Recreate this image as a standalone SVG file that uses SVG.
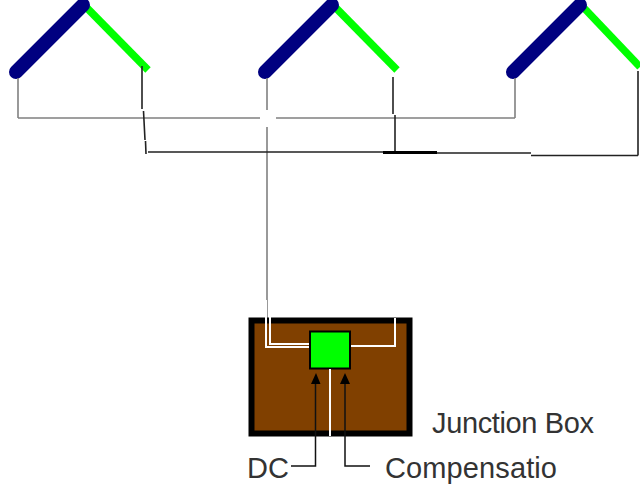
<svg xmlns="http://www.w3.org/2000/svg" width="640" height="492" viewBox="0 0 640 492">
<style>
.blue{stroke:#000080;stroke-width:14;stroke-linecap:round;fill:none}
.green{stroke:#00ff00;stroke-width:7.500;fill:none}
.gray{stroke:#808080;stroke-width:1.6;fill:none}
.blk{stroke:#222;stroke-width:1.6;fill:none}
.wht{stroke:#fff;stroke-width:2;fill:none}
.ln{stroke:#111;stroke-width:1.5;fill:none}
.lb{font-family:"Liberation Sans",Arial,sans-serif;font-size:29px;fill:#333}
</style>
<g id="house1"><path class="green" d="M87 8L148 70"/><path class="blue" d="M16 72L83 5"/><path class="gray" d="M18 78V118"/></g>
<g id="house2"><path class="green" d="M336 8L397 70"/><path class="blue" d="M265 72L332 5"/></g>
<g id="house3"><path class="green" d="M584 8L640 67"/><path class="blue" d="M513 72L580 5"/><path class="gray" d="M515 78V118"/></g>
<g id="connectors">
<path class="gray" d="M18 118H260M276 118H515"/>
<path class="gray" d="M267 78V110M267 127V320"/>
<path class="blk" d="M142 66V109M143.500 111L145 140M145.500 141L146 154"/>
<path class="blk" d="M393 77V114M395 115V152"/>
<path class="blk" d="M148 152H383M437 153H531M531 155.500H638M638 155.500V71"/>
<path d="M383 152.500H437" stroke="#000" stroke-width="3" fill="none"/>
</g>
<g id="junction-box">
<rect x="251.500" y="320.500" width="158" height="113" fill="#804000" stroke="#000" stroke-width="6"/>
<rect x="310" y="331.500" width="40" height="37" fill="#00ff00" stroke="#000" stroke-width="2"/>
<path class="wht" d="M266 300V347H309M270 300V344H309M395 318V346H351M330 369V436"/>
</g>
<g id="labels">
<path class="ln" d="M291 466H315.500V380M370 466H345V380"/>
<polygon points="316,373 320.500,384 311,384" fill="#000"/>
<polygon points="345,373 350,384 340,384" fill="#000"/>
<text class="lb" x="247" y="478">DC</text>
<text class="lb" x="385" y="478" textLength="172">Compensatio</text>
<text class="lb" x="432" y="433" textLength="162">Junction Box</text>
</g>
</svg>
